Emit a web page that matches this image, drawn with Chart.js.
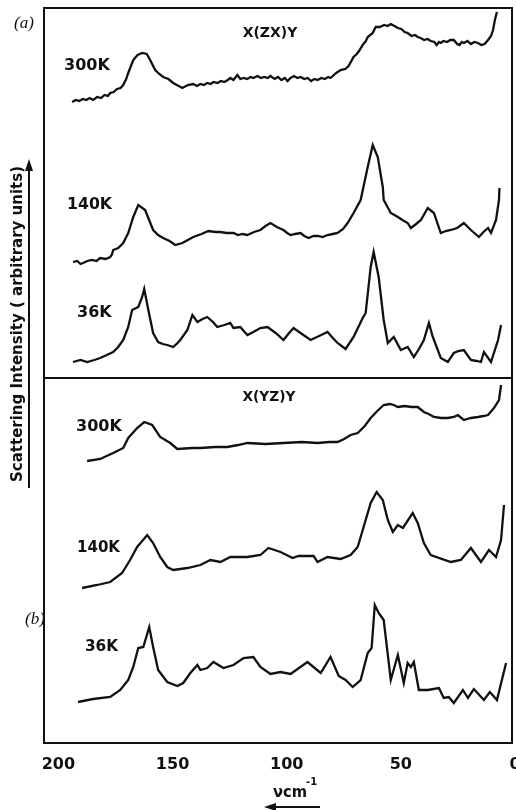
<!DOCTYPE html>
<html>
<head>
<meta charset="utf-8">
<title>Raman spectra X(ZX)Y / X(YZ)Y</title>
<script src="https://cdn.jsdelivr.net/npm/chart.js@4.4.1/dist/chart.umd.min.js"></script>
<style>
  html, body { margin: 0; padding: 0; background: #fff; }
  #wrap { width: 516px; height: 810px; }
</style>
</head>
<body>
<div id="wrap"><canvas id="spectra" width="516" height="810"></canvas></div>
<script>
// [wavenumber cm-1, intensity (arbitrary units, curves already stacked)]
const zx300 = [[192.7,641],[191,643],[189.5,642],[188,644],[186.5,643],[185,645],[183.5,643],[181.7,646],[180,645],[178.5,648],[177,647],[176,650],[174.5,651],[173,654],[171.5,655],[170.3,658],[169,664],[168.1,670],[165.9,683],[164,688],[162,690],[160,689],[158.5,683],[156.3,673],[154.5,669],[152.8,666],[150.5,664],[148.4,660],[146,657],[144.4,655],[142,658],[139.6,659],[138,657],[136.5,659],[135,658],[133.5,660],[132,659],[130.8,661],[129,660],[127.5,662],[126,661],[124.5,663],[123.4,665],[122,663],[120.3,668],[119,664],[117.5,665],[116,664],[114.5,666],[113.3,665],[111.5,667],[110,665],[108.5,666],[107,665],[105.8,667],[104,664],[102.5,666],[101,663],[99.5,665],[98.3,662],[97,665],[95.5,667],[94,665],[92.6,666],[91,664],[89.5,665],[88,662],[86.5,664],[85.2,663],[83.5,665],[82,664],[80.5,666],[79.5,665],[77,670],[75.1,673],[73,674],[71.6,677],[69.4,686],[68,689],[67,692],[65.4,698],[64,702],[63.2,706],[61,710],[59.7,716],[58,716],[56,718],[54.5,717],[53.1,719],[51.5,717],[50,715],[48.5,714],[47,711],[45.7,710],[44,707],[42.5,708],[41.3,706],[40,705],[38.5,703],[37,704],[35.6,702],[34,701],[33,698],[32,701],[31.2,700],[30,702],[28.5,701],[27,703],[25.5,703],[24,699],[23,698],[22,701],[21.1,700],[19.5,702],[18,699],[16.5,701],[14.9,700],[13.5,698],[12,699],[10.5,703],[9.2,707],[8.3,713],[7.5,723],[6.6,731]];
const zx140 = [[192.3,481],[190.5,482],[189,479],[187.9,480],[186,482],[184,483],[182,482],[180.4,485],[178,484],[176,486],[175.2,489],[174.7,493],[172.5,495],[170.3,500],[168.1,510],[165.9,526],[163.7,538],[160.7,533],[157.2,513],[155,508],[152.8,505],[150,502],[147.5,498],[144.4,500],[142,503],[139.6,506],[136,509],[133,512],[130,511],[127.7,511],[125,510],[122,510],[120,508],[118,509],[115.9,508],[113,511],[110.2,513],[108,517],[105.8,520],[103,516],[100.1,513],[98.5,510],[97,508],[95,509],[92.6,510],[91,507],[89.1,505],[87,507],[85,507],[83,506],[80.8,508],[78.5,509],[76.4,510],[74,514],[72,520],[69.4,530],[66.3,543],[63.2,576],[61,598],[58.8,586],[56.6,556],[56.2,543],[53.1,530],[51.5,528],[50,526],[48,523],[45.7,520],[44.3,515],[42,519],[39.9,523],[36.9,535],[34.2,530],[31.2,510],[29,512],[26.8,513],[24,515],[21.1,520],[18,513],[16,509],[14.5,506],[12.5,511],[10.5,515],[9.2,510],[7,523],[5.7,543],[5.5,555]];
const zx36 = [[192.3,381],[189,383],[186.1,381],[183,383],[180.4,385],[177.5,388],[174.7,391],[172.5,396],[170.3,403],[168.1,416],[166.4,433],[163.7,436],[162,446],[161.1,454],[159.3,433],[157.2,410],[155,401],[153,399],[151,398],[148.4,396],[146.5,400],[145.3,403],[142.2,413],[140,428],[137.8,421],[135.5,424],[133.5,426],[131,421],[129.1,416],[126,418],[123.4,420],[122,415],[119,416],[117.5,412],[115.9,408],[113.3,411],[110.2,415],[107.1,416],[103.5,410],[100.1,403],[98,409],[95.7,415],[92,409],[88.2,403],[84.5,407],[80.8,411],[78.5,405],[76.4,400],[72.9,394],[69.4,406],[65.4,425],[64.1,430],[61.9,476],[60.6,491],[58.4,466],[56.2,423],[54.4,400],[51.8,406],[48.7,393],[45.7,396],[43,386],[40.5,395],[38.6,403],[36.4,420],[34.7,406],[31.2,385],[28.1,381],[25.5,390],[23.5,392],[21.1,393],[18,383],[15.5,382],[13.6,381],[12.3,391],[9.2,381],[6.1,403],[4.8,418]];
const yz300 = [[186.1,282],[180.4,284],[174.7,290],[170.3,295],[168.1,305],[164.2,315],[161.1,321],[157.6,318],[154.1,306],[149.7,300],[146.6,294],[140,295],[136.5,295],[130,296],[124.7,296],[120,298],[115.9,300],[108,299],[100.1,300],[92,301],[85.2,300],[80,301],[76.4,301],[73.5,304],[70.7,308],[67.6,310],[64.5,317],[61.9,325],[59,332],[56.2,338],[53.5,339],[51.8,338],[50,336],[47,337],[44,336],[41.3,336],[38.6,331],[36.5,329],[34.2,326],[31,325],[28.1,325],[25.5,326],[23.7,328],[21.1,323],[18,325],[14.9,326],[12.5,327],[10.5,328],[7.9,335],[5.7,343],[4.8,358]];
const yz140 = [[188.3,155],[181.7,158],[176,161],[170.8,170],[167.3,183],[164.2,196],[159.8,208],[157.2,200],[154.1,186],[151,176],[148.4,173],[142.2,175],[136.5,178],[132.1,183],[127.7,181],[123.4,186],[115.9,186],[110.2,188],[106.7,195],[101.4,191],[96.1,185],[93.5,187],[86.9,187],[85.2,181],[80.8,186],[75.1,184],[70.7,188],[67.6,196],[65,216],[61.9,240],[59.3,251],[56.6,243],[54.4,223],[52.2,211],[50,218],[47.8,215],[43.5,230],[41.3,220],[38.6,200],[35.6,188],[26.8,181],[22.4,183],[18,195],[13.6,181],[10.1,193],[7,186],[4.8,203],[3.5,238]];
const yz36 = [[190.1,41],[183.5,44],[176,46],[171.6,53],[168.1,63],[165.9,76],[163.7,95],[161.5,96],[158.9,116],[157.2,96],[155,73],[151,61],[146.6,57],[144,60],[140.9,70],[137.8,78],[136.5,73],[133.5,75],[130.8,81],[126.4,75],[122,78],[117.6,85],[113.3,86],[110.2,76],[105.8,69],[101.4,71],[97,69],[89.6,81],[83.8,70],[79.5,86],[75.9,67],[72.9,63],[69.8,56],[66.3,63],[63.2,90],[61.5,95],[60.1,138],[58.4,130],[56.2,123],[53.1,63],[50,88],[47.4,60],[45.7,80],[44.3,76],[43,81],[40.8,53],[36.9,53],[32,55],[29.9,45],[27.7,46],[25.5,40],[21.5,53],[19.3,45],[16.7,54],[12.3,43],[9.7,51],[6.6,43],[2.6,80]];

const series = [zx300, zx140, zx36, yz300, yz140, yz36];
const xTicks = [0, 50, 100, 150, 200];
const panelSplit = 365;

const tempLabels = [
  { text: "300K", x: 64, y: 66, w: 47 },
  { text: "140K", x: 67, y: 205, w: 45 },
  { text: "36K", x: 77, y: 313, w: 35 },
  { text: "300K", x: 76, y: 427, w: 46 },
  { text: "140K", x: 77, y: 548, w: 43 },
  { text: "36K", x: 85, y: 647, w: 33 },
];

const INK = "#111";

const decorations = {
  id: "decorations",
  afterDraw(chart) {
    const ctx = chart.ctx;
    ctx.save();
    ctx.fillStyle = INK;
    ctx.strokeStyle = INK;

    ctx.textBaseline = "middle";
    ctx.textAlign = "left";
    ctx.font = "bold 16px 'DejaVu Sans'";
    tempLabels.forEach((l) => ctx.fillText(l.text, l.x, l.y, l.w));

    ctx.textAlign = "center";
    ctx.font = "bold 14px 'DejaVu Sans'";
    ctx.fillText("X(ZX)Y", 270, 33, 55);
    ctx.fillText("X(YZ)Y", 269, 397, 53);

    ctx.font = "italic 17px 'Liberation Serif'";
    ctx.fillText("(a)", 24, 24);
    ctx.fillText("(b)", 35, 620);

    // y title, rotated, with arrow alongside
    ctx.save();
    ctx.translate(18, 324);
    ctx.rotate(-Math.PI / 2);
    ctx.font = "bold 15px 'DejaVu Sans'";
    ctx.fillText("Scattering Intensity ( arbitrary units)", 0, 0, 328);
    ctx.restore();
    ctx.lineWidth = 2;
    ctx.beginPath();
    ctx.moveTo(29, 488);
    ctx.lineTo(29, 168);
    ctx.stroke();
    ctx.beginPath();
    ctx.moveTo(29, 159);
    ctx.lineTo(25, 171);
    ctx.lineTo(33, 171);
    ctx.closePath();
    ctx.fill();

    // x title: nu cm^-1 and leftward arrow
    ctx.textAlign = "left";
    ctx.textBaseline = "alphabetic";
    ctx.font = "bold 16px 'DejaVu Sans'";
    ctx.fillText("νcm", 273, 797, 34);
    ctx.font = "bold 10px 'DejaVu Sans'";
    ctx.fillText("-1", 306, 785);
    ctx.beginPath();
    ctx.moveTo(320, 807);
    ctx.lineTo(272, 807);
    ctx.stroke();
    ctx.beginPath();
    ctx.moveTo(264, 807);
    ctx.lineTo(276, 803);
    ctx.lineTo(276, 811);
    ctx.closePath();
    ctx.fill();

    ctx.restore();
  },
};

function buildDatasets() {
  return series.map((pts) => ({
    data: pts.map(([x, y]) => ({ x, y })),
    borderColor: INK,
    borderWidth: 2.3,
    pointRadius: 0,
    tension: 0,
    fill: false,
  }));
}

const frame = { color: INK, width: 2 };

document.addEventListener("DOMContentLoaded", () => {
  new Chart(document.getElementById("spectra"), {
    type: "line",
    data: { datasets: buildDatasets() },
    plugins: [decorations],
    options: {
      responsive: false,
      animation: false,
      events: [],
      layout: { padding: { left: 44, right: 4, top: 8, bottom: 0 } },
      plugins: { legend: { display: false }, tooltip: { enabled: false } },
      scales: {
        x: {
          type: "linear",
          reverse: true,
          min: 0,
          max: 205,
          afterBuildTicks: (s) => {
            s.ticks = xTicks.map((v) => ({ value: v }));
          },
          grid: { display: false, drawTicks: false },
          border: frame,
          ticks: {
            color: INK,
            font: { family: "DejaVu Sans", size: 16, weight: "bold" },
            padding: 12,
            labelOffset: 3,
            maxRotation: 0,
          },
          afterFit: (s) => {
            s.height = 67;
            s.paddingLeft = 0;
            s.paddingRight = 0;
          },
        },
        xTop: {
          type: "linear",
          position: "top",
          reverse: true,
          min: 0,
          max: 205,
          grid: { display: false, drawTicks: false },
          ticks: { display: false },
          border: frame,
          afterFit: (s) => {
            s.height = 0;
          },
        },
        y: {
          type: "linear",
          min: 0,
          max: 735,
          afterBuildTicks: (s) => {
            s.ticks = [{ value: panelSplit }];
          },
          grid: { color: INK, lineWidth: 2, drawTicks: false },
          border: frame,
          ticks: { display: false },
          afterFit: (s) => {
            s.width = 0;
          },
        },
        yRight: {
          type: "linear",
          position: "right",
          min: 0,
          max: 735,
          grid: { display: false, drawTicks: false },
          ticks: { display: false },
          border: frame,
          afterFit: (s) => {
            s.width = 0;
          },
        },
      },
    },
  });
});
</script>
</body>
</html>
